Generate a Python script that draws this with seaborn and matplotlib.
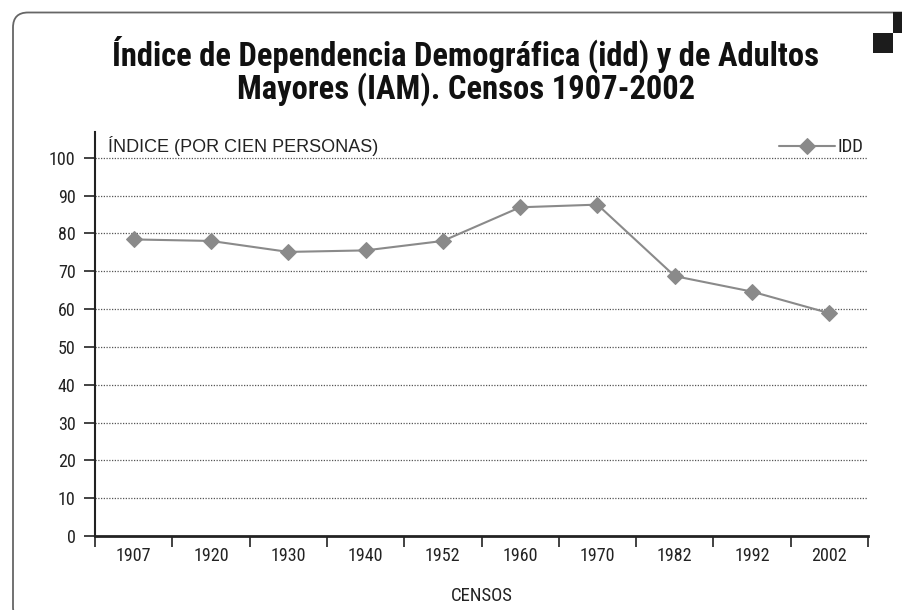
import matplotlib
matplotlib.use("Agg")
import matplotlib.pyplot as plt
from matplotlib.patches import FancyBboxPatch, Rectangle
from matplotlib.transforms import IdentityTransform
import seaborn as sns
import pandas as pd
import numpy as np

# Datos
censos = ["1907", "1920", "1930", "1940", "1952", "1960", "1970", "1982", "1992", "2002"]
idd = [78.4, 78.0, 75.1, 75.5, 78.0, 86.9, 87.6, 68.7, 64.6, 58.9]

titulo_1 = "Índice de Dependencia Demográfica (idd) y de Adultos"
titulo_2 = "Mayores (IAM). Censos 1907-2002"
etiqueta_y = "ÍNDICE (POR CIEN PERSONAS)"
etiqueta_x = "CENSOS"

df = pd.DataFrame({"censo": censos, "IDD": idd})

sns.set_theme(style="white")
plt.rcParams["font.family"] = ["Roboto Condensed", "DejaVu Sans"]

gris = "#8a8a8a"
negro = "#222222"

fig = plt.figure(figsize=(9.02, 6.10), dpi=100)
ax = fig.add_axes([95 / 902, 1 - 536 / 610, (868 - 95) / 902, (536 - 132) / 610])

sns.lineplot(data=df, x="censo", y="IDD", ax=ax, color=gris, marker="D",
             markersize=8, markeredgecolor=gris, linewidth=1.5, label="IDD")

ax.set_xlim(-0.5, len(censos) - 0.5)
ax.set_ylim(0, 106.8)
ax.set_yticks(np.arange(0, 101, 10))
ax.set_xticks(range(len(censos)))
ax.set_xticklabels(censos)
ax.set_xticks(np.arange(-0.5, len(censos), 1), minor=True)
ax.tick_params(axis="x", which="major", length=0, pad=8, labelsize=13, colors=negro)
ax.tick_params(axis="x", which="minor", length=8, width=1.2, color=negro, direction="out", bottom=True)
ax.tick_params(axis="y", length=8, width=1.2, color=negro, direction="out", left=True,
               labelsize=13, labelcolor=negro, pad=6)

for v in range(10, 101, 10):
    ax.axhline(v, color="#555555", linestyle=(0, (1, 1.2)), linewidth=0.9, zorder=0)

for s in ["top", "right"]:
    ax.spines[s].set_visible(False)
ax.spines["left"].set_color(negro)
ax.spines["left"].set_linewidth(1.5)
ax.spines["bottom"].set_color(negro)
ax.spines["bottom"].set_linewidth(2)

ax.set_ylabel("")
ax.set_xlabel(etiqueta_x, fontsize=13.5, color=negro, labelpad=16)
ax.text(0.017, 0.99, etiqueta_y, transform=ax.transAxes, fontsize=13,
        family=["Liberation Sans", "DejaVu Sans"], color=negro, ha="left", va="top")

leg = ax.legend(loc="upper right", bbox_to_anchor=(1.008, 1.012), frameon=False,
                fontsize=13.5, handlelength=3.0, handletextpad=0.1, borderaxespad=0.2)
for t in leg.get_texts():
    t.set_color(negro)

fig.text(466 / 902, 1 - 66 / 610, titulo_1, ha="center", va="baseline", fontsize=23.5,
         fontweight="heavy", color="#111111")
fig.text(466 / 902, 1 - 99 / 610, titulo_2, ha="center", va="baseline", fontsize=23.5,
         fontweight="heavy", color="#111111")

# Marco redondeado y cuadros negros
marco = FancyBboxPatch((13, -12), 960, 610 - 12.5 + 12, boxstyle="round,pad=0,rounding_size=15",
                       transform=IdentityTransform(), facecolor="none",
                       edgecolor="#666666", linewidth=1.3)
fig.patches.append(marco)
fig.patches.append(Rectangle((893, 577), 9, 21, transform=IdentityTransform(),
                             facecolor="#1c1c1c", edgecolor="none"))
fig.patches.append(Rectangle((873, 557), 20, 20, transform=IdentityTransform(),
                             facecolor="#1c1c1c", edgecolor="none"))

fig.savefig("out.png", dpi=100)
